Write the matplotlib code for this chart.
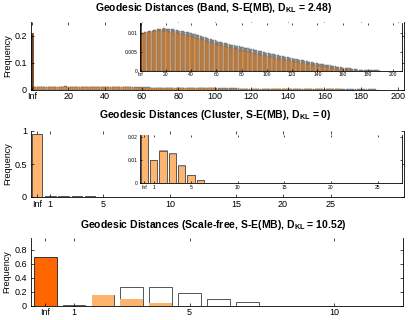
import numpy as np
import matplotlib
matplotlib.use("Agg")
from matplotlib import pyplot as plt

plt.rcParams["font.family"] = ["Liberation Sans", "DejaVu Sans"]
plt.rcParams["mathtext.fontset"] = "custom"
plt.rcParams["mathtext.rm"] = "Liberation Sans"
plt.rcParams["mathtext.bf"] = "Liberation Sans:bold"

# --- Band network (distance 1..N, values in units of 1e-4) ---
band_inf = 0.21
band_model = np.array([
    97, 98, 99, 100, 101, 101, 102, 103, 103, 104,
    104, 105, 105, 106, 106, 106, 105, 105, 105, 104,
    104, 103, 103, 102, 102, 101, 100, 100, 99, 98,
    98, 97, 96, 96, 95, 94, 93, 92, 91, 90,
    89, 88, 87, 86, 85, 84, 83, 82, 81, 80,
    79, 78, 77, 76, 75, 74, 73, 72, 70, 69,
    68, 67, 67, 66, 65, 64, 63, 63, 62, 61,
    60, 59, 59, 58, 57, 56, 56, 55, 54, 53,
    52, 52, 51, 50, 49, 49, 48, 47, 46, 45,
    45, 44, 43, 42, 42, 41, 40, 39, 39, 38,
    37, 36, 36, 35, 34, 34, 33, 32, 32, 31,
    30, 30, 29, 29, 28, 27, 27, 26, 26, 25,
    24, 24, 23, 23, 22, 21, 21, 20, 20, 19,
    18, 18, 17, 17, 16, 15, 15, 14, 14, 13,
    13, 12, 12, 11, 11, 10, 10, 9, 9, 8,
    8, 7, 7, 6, 6, 5, 5, 4, 4, 3,
    3, 2, 2, 2, 1, 1, 1, 1, 0, 0,
]) / 1e4
band_obs = np.array([
    99, 100, 101, 102, 103, 104, 105, 106, 106, 107,
    108, 108, 109, 110, 110, 111, 111, 112, 112, 111,
    111, 111, 110, 110, 109, 109, 108, 108, 107, 106,
    106, 105, 104, 104, 103, 102, 101, 101, 100, 99,
    98, 97, 96, 95, 94, 93, 92, 91, 90, 89,
    88, 87, 86, 85, 84, 83, 82, 81, 80, 78,
    77, 77, 76, 75, 74, 73, 73, 72, 71, 70,
    69, 69, 68, 67, 66, 66, 65, 64, 63, 63,
    62, 61, 60, 60, 59, 58, 57, 57, 56, 55,
    54, 54, 53, 52, 51, 51, 50, 49, 48, 47,
    47, 46, 45, 44, 44, 43, 42, 41, 41, 40,
    39, 38, 38, 37, 36, 36, 35, 34, 33, 33,
    32, 31, 31, 30, 29, 29, 28, 27, 27, 26,
    25, 25, 24, 23, 23, 22, 21, 21, 20, 20,
    19, 18, 18, 17, 17, 16, 15, 15, 14, 14,
    13, 13, 12, 12, 11, 10, 10, 9, 9, 8,
    8, 7, 7, 6, 6, 6, 5, 5, 4, 4,
    4, 3, 3, 3, 3, 2, 2, 2, 2, 2,
    2, 1, 1, 1, 1, 1, 1, 1, 0, 0,
]) / 1e4
band_ticks = [0, 20, 40, 60, 80, 100, 120, 140, 160, 180, 200]
band_ticklabels = ["Inf", "20", "40", "60", "80", "100", "120", "140", "160", "180", "200"]

# --- Cluster network (position 0 = Inf) ---
cluster_pos = [0, 1, 2, 3, 4, 5, 6, 7]
cluster_model = [0.96, 0.0100, 0.0143, 0.0127, 0.0076, 0.0036, 0.0014, 0.0003]
cluster_obs = [0.96, 0.0098, 0.0140, 0.0129, 0.0078, 0.0036, 0.0013, 0.0003]
cluster_ticks_main = [0, 1, 5, 10, 15, 18.5, 22.1]   # label positions as they sit in the picture
cluster_ticks = [0, 1, 5, 10, 15, 20, 25]
cluster_ticklabels = ["Inf", "1", "5", "10", "15", "20", "25"]

# --- Scale-free network (position 0 = Inf) ---
sf_pos = [0, 1, 2, 3, 4, 5, 6, 7]
sf_model = [0.69, 0.0, 0.153, 0.096, 0.034, 0.0, 0.0, 0.0]
sf_obs = [0.0, 0.015, 0.15, 0.263, 0.263, 0.177, 0.096, 0.048]
sf_ticks = [0, 1, 5, 10]
sf_ticklabels = ["Inf", "1", "5", "10"]

W, H = 414, 320


def box(l, t, r, b):
    return [l / W, 1 - b / H, (r - l) / W, (b - t) / H]


def style(ax, fs, ln=2.0, pad=2.0):
    ax.tick_params(direction="in", length=ln, width=0.5, top=True, right=True,
                   labelsize=fs, pad=pad, colors="black")
    ax.tick_params(axis="y", pad=pad + 0.8)
    ax.spines["top"].set_visible(False)
    for s in ["left", "bottom", "right"]:
        ax.spines[s].set_linewidth(0.6)


fig = plt.figure(figsize=(W / 100, H / 100), dpi=100)

gray_face, gray_edge = "#aeb6b6", "#4a4a4a"
org_face, org_edge = "#eaa15c", "#7a4a20"

# ---------------- Panel 1: Band ----------------
d = np.arange(1, len(band_obs) + 1)
dm = np.arange(1, len(band_model) + 1)
for rect, xl, yl, fs in [(box(31, 22, 404, 89.5), (-0.5, 203.5), (0, 0.25), 6.5),
                         (box(140, 23, 402, 70.7), (-0.6, 207), (0, 0.0126), 3.6)]:
    ax = fig.add_axes(rect)
    ax.bar(d, band_obs, width=0.85, color=gray_face, edgecolor=gray_edge, linewidth=0.25)
    ax.bar(dm, band_model, width=0.85, color=org_face, edgecolor=org_edge, linewidth=0.25, alpha=0.9)
    ax.bar([0], [band_inf], width=0.85, color="#6e3d1c", edgecolor="#4a2810", linewidth=0.4)
    ax.set_xlim(*xl)
    ax.set_ylim(*yl)
    ax.set_xticks(band_ticks)
    ax.set_xticklabels(band_ticklabels)
    if fs > 5:
        ax.set_yticks([0, 0.1, 0.2])
        ax.set_yticklabels(["0", "0.1", "0.2"])
        ax.set_ylabel("Frequency", fontsize=6.5, labelpad=2)
        style(ax, fs)
    else:
        ax.set_yticks([0, 0.005, 0.01])
        ax.set_yticklabels(["0", "0.005", "0.01"])
        style(ax, fs, 1.5, 1.0)

# ---------------- Panel 2: Cluster ----------------
for rect, yl, fs in [(box(31, 131, 404, 197), (0, 1.0), 6.5),
                     (box(140, 135, 402, 183.3), (0, 0.0207), 3.6)]:
    ax = fig.add_axes(rect)
    ax.bar(cluster_pos, cluster_model, width=0.79, color="#ffb470", edgecolor="#9a9a9a", linewidth=0.6)
    ax.bar(cluster_pos, cluster_obs, width=0.79, color="none", edgecolor="#3a3a3a", linewidth=0.5)
    ax.set_xlim(-0.45, 27.6)
    ax.set_ylim(*yl)
    if fs > 5:
        ax.set_xticks(cluster_ticks_main)
        ax.set_xticklabels(cluster_ticklabels)
        ax.set_yticks([0, 0.5, 1])
        ax.set_yticklabels(["0", "0.5", "1"])
        ax.set_ylabel("Frequency", fontsize=6.5, labelpad=2)
        style(ax, fs)
    else:
        ax.set_xticks(cluster_ticks)
        ax.set_xticklabels(cluster_ticklabels)
        ax.set_yticks([0, 0.01, 0.02])
        ax.set_yticklabels(["0", "0.01", "0.02"])
        style(ax, fs, 1.5, 1.0)

# ---------------- Panel 3: Scale-free ----------------
ax = fig.add_axes(box(30.7, 238, 403.3, 305.7))
ax.bar(sf_pos, sf_obs, width=0.79, color="white", edgecolor="#555555", linewidth=0.7)
ax.bar(sf_pos[1:], sf_model[1:], width=0.79, color="#ffb46e", edgecolor="none")
ax.bar(sf_pos[:1], sf_model[:1], width=0.79, color="#ff6600", edgecolor="#333333", linewidth=0.7)
ax.set_xlim(-0.5, 12.4)
ax.set_ylim(0, 0.965)
ax.set_xticks(sf_ticks)
ax.set_xticklabels(sf_ticklabels)
ax.set_yticks([0, 0.2, 0.4, 0.6, 0.8])
ax.set_yticklabels(["0", "0.2", "0.4", "0.6", "0.8"])
ax.set_ylabel("Frequency", fontsize=6.5, labelpad=2)
style(ax, 6.5)

# titles
tfs = 7.5
fig.text(0.517, 1 - 8 / H, r"Geodesic Distances (Band, S-E(MB), D$_{\mathbf{KL}}$ = 2.48)",
         ha="center", va="center", fontsize=tfs, fontweight="bold")
fig.text(0.519, 1 - 115 / H, r"Geodesic Distances (Cluster, S-E(MB), D$_{\mathbf{KL}}$ = 0)",
         ha="center", va="center", fontsize=tfs, fontweight="bold")
fig.text(0.516, 1 - 225 / H, r"Geodesic Distances (Scale-free, S-E(MB), D$_{\mathbf{KL}}$ = 10.52)",
         ha="center", va="center", fontsize=tfs, fontweight="bold")

fig.savefig("out.png", dpi=100)
